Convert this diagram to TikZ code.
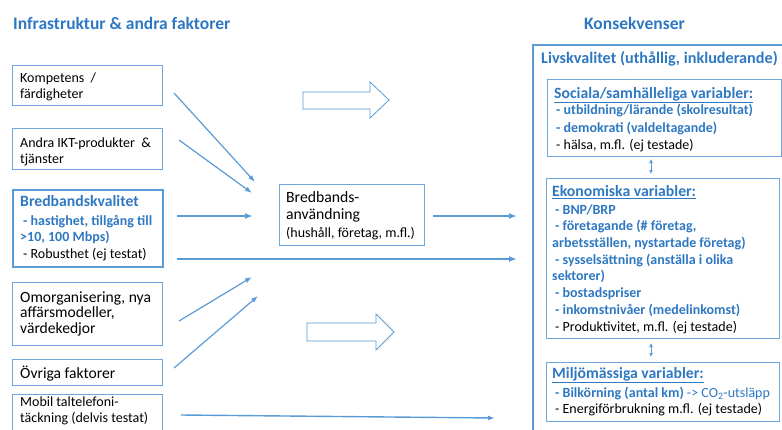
\documentclass[tikz,border=0pt]{standalone}
\usepackage{fontspec}
\setmainfont{Carlito}
\usetikzlibrary{arrows.meta}
\definecolor{hdblue}{HTML}{2E78C2}
\definecolor{lnblue}{HTML}{5B9BD5}
\definecolor{bxblue}{HTML}{6FA6DC}
\begin{document}
\begin{tikzpicture}[x=1pt,y=-1pt,
  thinbox/.style={draw=bxblue,line width=0.9pt,inner sep=0pt},
  thickbox/.style={draw=lnblue,line width=2.2pt,inner sep=0pt},
  panelbox/.style={draw=bxblue,line width=1.1pt,inner sep=0pt},
  txt/.style={anchor=north west,inner sep=0pt,align=left},
  small/.style={font=\fontsize{14}{16.5}\selectfont},
  big/.style={font=\fontsize{15.6}{15.5}\selectfont},
  heading/.style={anchor=north west,inner sep=0pt,text=hdblue,font=\fontsize{17.5}{19}\selectfont\bfseries},
  link/.style={draw=lnblue,line width=1.2pt,-{Latex[length=7pt,width=5pt]}},
  mainlink/.style={draw=lnblue,line width=2pt,-{Latex[length=8pt,width=6pt]}},
  both/.style={draw=lnblue,line width=0.7pt,{Latex[length=4pt,width=4pt]}-{Latex[length=4pt,width=4pt]}},
  hollow/.style={draw=lnblue,line width=0.8pt,fill=white}
]
\useasboundingbox (0,0) rectangle (782,429);
\clip (0,0) rectangle (782,429);

% column headings
\node[heading] (hleft) at (13,15.7) {\strut Infrastruktur \& andra faktorer};
\node[heading] (hright) at (584,15.7) {\strut Konsekvenser};

% left column boxes
\node[thinbox,anchor=north west,minimum width=150pt,minimum height=40pt] (komp) at (12,65) {};
\node[thinbox,anchor=north west,minimum width=150pt,minimum height=41pt] (ikt) at (12,128) {};
\node[thickbox,anchor=north west,minimum width=150pt,minimum height=77pt] (bbq) at (12,189) {};
\node[thinbox,anchor=north west,minimum width=150pt,minimum height=63pt] (omorg) at (12,282) {};
\node[thinbox,anchor=north west,minimum width=150pt,minimum height=26pt] (ovr) at (12,359) {};
\node[thinbox,anchor=north west,minimum width=150pt,minimum height=50pt] (mob) at (12,394) {};

\node[txt,small] (kompT) at (20,70.45) {\strut Kompetens \ /\\färdigheter};
\node[txt,small] (iktT) at (20,135.45) {\strut Andra IKT-produkter \ \&\\tjänster};
\node[txt,anchor=north west,text=hdblue,font=\fontsize{15.7}{17}\selectfont\bfseries] (bbqH) at (20,194.1) {\strut Bredbandskvalitet};
\node[txt,small] (bbqT) at (20,213.45) {\strut\hspace{3pt}{\bfseries\color{hdblue}- hastighet, tillgång till}\\{\bfseries\color{hdblue}>10, 100 Mbps)}\\\hspace{3pt}- Robusthet (ej testat)};
\node[txt,big] (omorgT) at (20,291.15) {\strut Omorganisering, nya\\affärsmodeller,\\värdekedjor};
\node[txt,big] (ovrT) at (20,366.15) {\strut Övriga faktorer};
\node[txt,small] (mobT) at (20,394.45) {\strut Mobil taltelefoni-\\täckning (delvis testat)};

% broadband use
\node[thinbox,anchor=north west,minimum width=145pt,minimum height=61pt] (use) at (279,184) {};
\node[txt,font=\fontsize{15.7}{17}\selectfont] (useT) at (286,190.1) {\strut Bredbands-\\användning};
\node[txt,font=\fontsize{14}{15}\selectfont] (useS) at (286,226.5) {\strut (hushåll, företag, m.fl.)};

% consequences panel
\node[thickbox,anchor=north west,minimum width=270pt,minimum height=400pt] (liv) at (532,44) {};
\node[txt,text=hdblue,font=\fontsize{16.2}{17}\selectfont\bfseries] (livT) at (541,51.1) {\strut Livskvalitet (uthållig, inkluderande)};

\node[panelbox,anchor=north west,minimum width=234pt,minimum height=77pt] (soc) at (547,79) {};
\node[txt,text=hdblue,font=\fontsize{15.7}{17}\selectfont\bfseries] (socH) at (554,86.1) {\strut\underline{Sociala/samhälleliga variabler:}};
\node[txt,font=\fontsize{14}{17.5}\selectfont] (socT) at (554,102.5) {\strut\hspace{2pt}{\bfseries\color{hdblue}- utbildning/lärande (skolresultat)}\\\hspace{2pt}{\bfseries\color{hdblue}- demokrati (valdeltagande)}\\\hspace{2pt}- hälsa, m.fl. (ej testade)};

\node[panelbox,anchor=north west,minimum width=233pt,minimum height=160pt] (ek) at (546,178) {};
\node[txt,text=hdblue,font=\fontsize{15.7}{17}\selectfont\bfseries] (ekH) at (552,184.1) {\strut\underline{Ekonomiska variabler:}};
\node[txt,font=\fontsize{14}{16.7}\selectfont] (ekT) at (552,202.3) {\strut\hspace{3pt}{\bfseries\color{hdblue}- BNP/BRP}\\\hspace{3pt}{\bfseries\color{hdblue}- företagande (\# företag,}\\{\bfseries\color{hdblue}arbetsställen, nystartade företag)}\\\hspace{3pt}{\bfseries\color{hdblue}- sysselsättning (anställa i olika}\\{\bfseries\color{hdblue}sektorer)}\\\hspace{3pt}{\bfseries\color{hdblue}- bostadspriser}\\\hspace{3pt}{\bfseries\color{hdblue}- inkomstnivåer (medelinkomst)}\\\hspace{3pt}- Produktivitet, m.fl. (ej testade)};

\node[panelbox,anchor=north west,minimum width=233pt,minimum height=59pt] (mil) at (546,362) {};
\node[txt,text=hdblue,font=\fontsize{15.7}{17}\selectfont\bfseries] (milH) at (552,366.1) {\strut\underline{Miljömässiga variabler:}};
\node[txt,font=\fontsize{14}{16.5}\selectfont] (milT) at (552,385.45) {\strut\hspace{3pt}{\color{hdblue}{\bfseries - Bilkörning (antal km)} -> CO\textsubscript{2}-utsläpp}\\\hspace{3pt}- Energiförbrukning m.fl. (ej testade)};

% arrow end points
\coordinate (a1s) at (174,93);  \coordinate (a1e) at (255,182);
\coordinate (a2s) at (179,140); \coordinate (a2e) at (252,193);
\coordinate (a3s) at (177,216); \coordinate (a3e) at (253,216);
\coordinate (a4s) at (433,216); \coordinate (a4e) at (517,216);
\coordinate (a5s) at (177,259); \coordinate (a5e) at (517,259);
\coordinate (a6s) at (179,321); \coordinate (a6e) at (252,277);
\coordinate (a7s) at (174,368); \coordinate (a7e) at (258,296);
\coordinate (a8s) at (181,415); \coordinate (a8e) at (495,418);

\draw[link] (a1s) -- (a1e);
\draw[link] (a2s) -- (a2e);
\draw[mainlink] (a3s) -- (a3e);
\draw[mainlink] (a4s) -- (a4e);
\draw[mainlink] (a5s) -- (a5e);
\draw[link] (a6s) -- (a6e);
\draw[link] (a7s) -- (a7e);
\draw[link,line width=1.4pt] (a8s) -- (a8e);

% links between the variable groups
\coordinate (d1a) at (651,159); \coordinate (d1b) at (651,174);
\coordinate (d2a) at (651,343); \coordinate (d2b) at (651,357);
\draw[both] (d1a) -- (d1b);
\draw[both] (d2a) -- (d2b);

% hollow block arrows
\draw[hollow] (303,92) -- (370,92) -- (370,82) -- (389,100) -- (370,118) -- (370,109) -- (303,109) -- cycle;
\draw[hollow] (307,323) -- (376,323) -- (376,314) -- (394,332) -- (376,350) -- (376,341) -- (307,341) -- cycle;
\end{tikzpicture}
\end{document}
